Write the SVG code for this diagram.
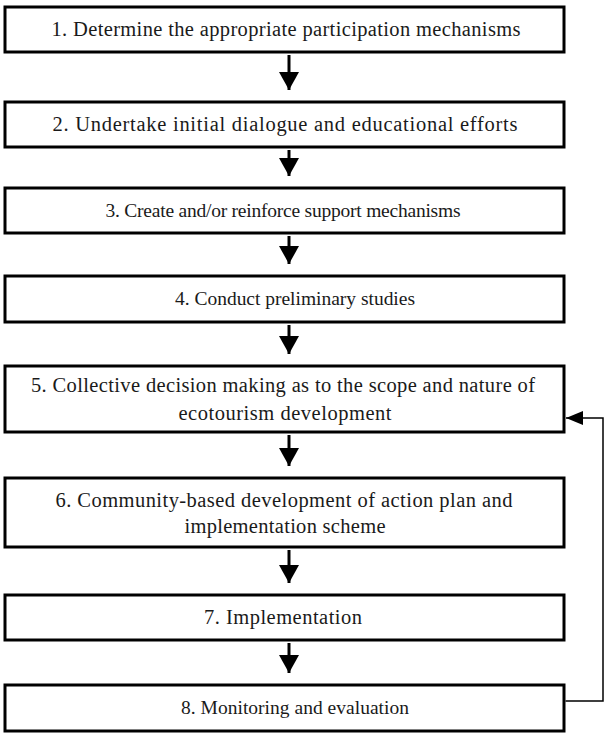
<svg xmlns="http://www.w3.org/2000/svg" width="604" height="733" viewBox="0 0 604 733">
<style>
.box{fill:#fff;stroke:#000;stroke-width:3}
.t{font-family:"Liberation Serif","Times New Roman",serif;font-size:20.5px;fill:#1a1a1a;text-anchor:middle}
.s{font-size:19.5px}
.flow{stroke:#000;stroke-width:3;fill:none}
.fb{stroke:#000;stroke-width:1.5;fill:none}
</style>
<defs>
<marker id="ah" markerUnits="userSpaceOnUse" markerWidth="20" markerHeight="20" viewBox="0 0 20 20" refX="18" refY="10" orient="auto">
<path d="M0,0 L18,10 L0,20 Z" fill="#000"/>
</marker>
<marker id="ah2" markerUnits="userSpaceOnUse" markerWidth="18" markerHeight="16" viewBox="0 0 18 16" refX="17" refY="8" orient="auto">
<path d="M0,1 L17,8 L0,15 Z" fill="#000"/>
</marker>
</defs>
<rect width="604" height="733" fill="#fff"/>
<g id="connectors">
<line class="flow" x1="289" y1="55" x2="289" y2="90" marker-end="url(#ah)"/>
<line class="flow" x1="289" y1="150" x2="289" y2="176" marker-end="url(#ah)"/>
<line class="flow" x1="289" y1="236" x2="289" y2="264" marker-end="url(#ah)"/>
<line class="flow" x1="289" y1="325" x2="289" y2="354" marker-end="url(#ah)"/>
<line class="flow" x1="289" y1="435" x2="289" y2="466" marker-end="url(#ah)"/>
<line class="flow" x1="289" y1="550" x2="289" y2="583" marker-end="url(#ah)"/>
<line class="flow" x1="289" y1="643" x2="289" y2="673" marker-end="url(#ah)"/>
<path class="fb" d="M565.5,701 H603 V418 H566" marker-end="url(#ah2)"/>
</g>
<g id="n1"><rect class="box" x="5" y="7" width="559" height="45"/>
<text class="t" x="286" y="36" textLength="469" lengthAdjust="spacing">1. Determine the appropriate participation mechanisms</text></g>
<g id="n2"><rect class="box" x="5" y="102" width="559" height="45"/>
<text class="t" x="285" y="131" textLength="465" lengthAdjust="spacing">2. Undertake initial dialogue and educational efforts</text></g>
<g id="n3"><rect class="box" x="5" y="188" width="559" height="45"/>
<text class="t s" x="283" y="217" textLength="355" lengthAdjust="spacing">3. Create and/or reinforce support mechanisms</text></g>
<g id="n4"><rect class="box" x="5" y="276" width="559" height="46"/>
<text class="t s" x="295" y="305" textLength="240" lengthAdjust="spacing">4. Conduct preliminary studies</text></g>
<g id="n5"><rect class="box" x="5" y="366" width="559" height="66"/>
<text class="t" x="283" y="392" textLength="504" lengthAdjust="spacing">5. Collective decision making as to the scope and nature of</text>
<text class="t" x="285" y="420" textLength="213" lengthAdjust="spacing">ecotourism development</text></g>
<g id="n6"><rect class="box" x="5" y="478" width="559" height="69"/>
<text class="t" x="284" y="507" textLength="457" lengthAdjust="spacing">6. Community-based development of action plan and</text>
<text class="t" x="285" y="533" textLength="201" lengthAdjust="spacing">implementation scheme</text></g>
<g id="n7"><rect class="box" x="5" y="595" width="559" height="45"/>
<text class="t" x="283" y="624" textLength="158" lengthAdjust="spacing">7. Implementation</text></g>
<g id="n8"><rect class="box" x="5" y="685" width="559" height="46"/>
<text class="t s" x="295" y="714" textLength="228" lengthAdjust="spacing">8. Monitoring and evaluation</text></g>
</svg>
